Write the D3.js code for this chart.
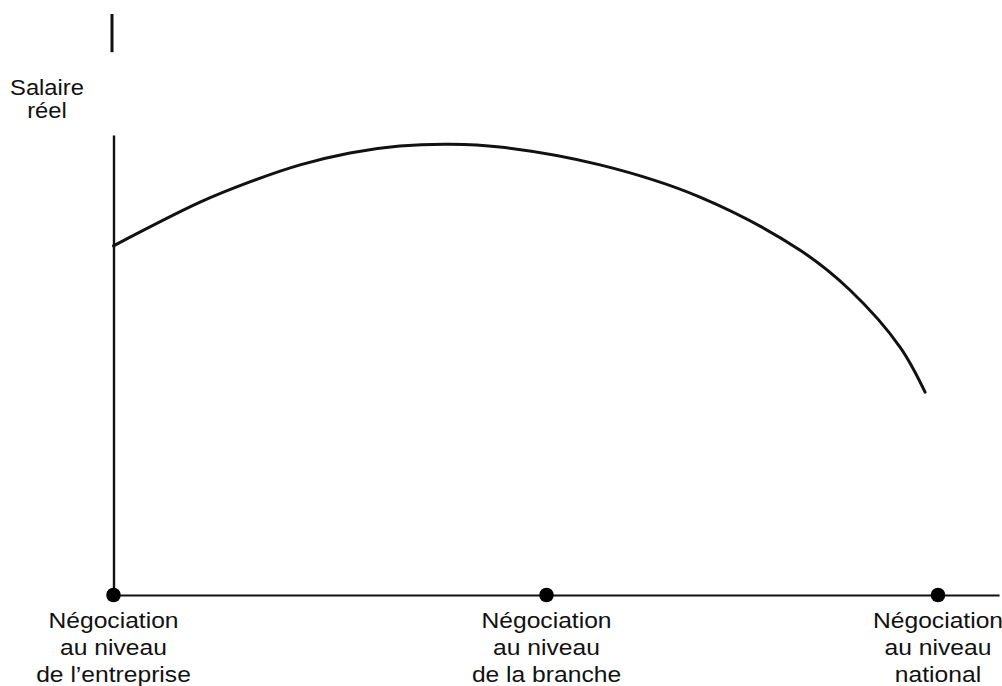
<!DOCTYPE html>
<html>
<head>
<meta charset="utf-8">
<script src="https://cdn.jsdelivr.net/npm/d3@7"></script>
<style>
  body { margin: 0; background: #fff; }
  text { font-family: "Liberation Sans", Arial, sans-serif; fill: #111; }
</style>
</head>
<body>
<div id="chart"></div>
<script>
var w = 1002;
var h = 686;

// negotiation levels (x positions 0, 1, 2)
var levels = [0, 1, 2];
var levelLabels = [
    ["Négociation", "au niveau", "de l’entreprise"],
    ["Négociation", "au niveau", "de la branche"],
    ["Négociation", "au niveau", "national"]
];
var yTitle = ["Salaire", "réel"];

var curveX = [0, 0.200, 0.315, 0.431, 0.546, 0.661, 0.777, 0.892, 1.137, 1.392, 1.647, 1.775, 1.903, 1.967];
var curveY = [75.9, 85.4, 89.8, 93.5, 96.1, 97.6, 98.0, 97.4, 93.5, 86.5, 75.0, 66.3, 53.9, 44.1];

// little piece of axis left over at the top of the scan
var axisStub = [118, 126.3];

var svg = d3.select("#chart")
    .append("svg")
    .attr("width", w)
    .attr("height", h);

var xScale = d3.scaleLinear()
    .domain([0, 1, 2])
    .range([113.5, 546.5, 938]);

var yScale = d3.scaleLinear()
    .domain([0, 100])
    .range([595, 135]);

//X axis, runs a bit past the last level
var xAxisScale = d3.scaleLinear()
    .domain([0, 2.156])
    .range([xScale(0), xScale(2.156)]);

var xAxis = d3.axisBottom(xAxisScale)
    .tickValues([])
    .tickSizeOuter(0);

svg.append("g")
    .attr("class", "x axis")
    .attr("transform", "translate(0," + yScale(0) + ")")
    .call(xAxis)
    .select(".domain")
    .attr("stroke", "#111")
    .attr("stroke-width", 2.2);

//Y axis
var yAxis = d3.axisLeft(yScale)
    .tickValues([])
    .tickSizeOuter(0);

svg.append("g")
    .attr("class", "y axis")
    .attr("transform", "translate(" + xScale(0) + ",0)")
    .call(yAxis)
    .select(".domain")
    .attr("stroke", "#111")
    .attr("stroke-width", 2.4);

svg.append("line")
    .attr("x1", xScale(0) - 1.5)
    .attr("x2", xScale(0) - 1.5)
    .attr("y1", yScale(axisStub[0]))
    .attr("y2", yScale(axisStub[1]))
    .attr("stroke", "#111")
    .attr("stroke-width", 3);

// curve
var line = d3.line()
    .x(function (d) { return xScale(d[0]); })
    .y(function (d) { return yScale(d[1]); })
    .curve(d3.curveCatmullRom);

svg.append("path")
    .datum(d3.zip(curveX, curveY))
    .attr("d", line)
    .attr("fill", "none")
    .attr("stroke", "#111")
    .attr("stroke-width", 3)
    .attr("stroke-linecap", "round");

// dots on the x axis
svg.selectAll("circle.level")
    .data(levels)
    .enter()
    .append("circle")
    .attr("class", "level")
    .attr("cx", function (d) { return xScale(d); })
    .attr("cy", yScale(0))
    .attr("r", 7.3)
    .attr("fill", "#000");

// level labels
var labels = svg.selectAll("g.label")
    .data(levels)
    .enter()
    .append("g")
    .attr("class", "label")
    .attr("transform", function (d) {
        return "translate(" + xScale(d) + ",0) scale(1.12,1)";
    });

labels.selectAll("text")
    .data(function (d) { return levelLabels[d]; })
    .enter()
    .append("text")
    .attr("x", 0)
    .attr("y", function (d, i) { return 628 + i * 27; })
    .attr("text-anchor", "middle")
    .attr("font-size", "22px")
    .text(function (d) { return d; });

// y axis title
svg.append("g")
    .attr("transform", "translate(47,0) scale(1.08,1)")
    .selectAll("text")
    .data(yTitle)
    .enter()
    .append("text")
    .attr("x", 0)
    .attr("y", function (d, i) { return 95 + i * 23; })
    .attr("text-anchor", "middle")
    .attr("font-size", "22px")
    .text(function (d) { return d; });
</script>
</body>
</html>
